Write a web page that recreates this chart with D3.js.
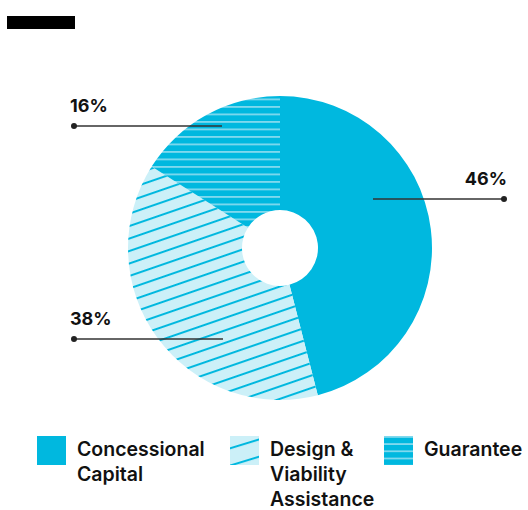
<!DOCTYPE html>
<html>
<head>
<meta charset="utf-8">
<script src="https://cdn.jsdelivr.net/npm/d3@7"></script>
<style>
  html, body { margin: 0; padding: 0; background: #fff; }
  svg { display: block; }
  text { font-family: Inter, "Noto Sans", sans-serif; fill: #111; }
</style>
</head>
<body>
<svg id="chart" width="528" height="510"></svg>
<script>
// Funding mix by instrument (percent of total)
const categories = ["Concessional Capital", "Design & Viability Assistance", "Guarantee"];
const shares = [46, 38, 16];
const valueLabels = ["46%", "38%", "16%"];
const legendLines = [["Concessional", "Capital"], ["Design &", "Viability", "Assistance"], ["Guarantee"]];

const BLUE = "#00b8df";
const LIGHT = "#ccf0f8";
const STRIPE = "#80d9ee";

const svg = d3.select("#chart");
const defs = svg.append("defs");

// diagonal hatch: blue lines on a pale fill
function diagonal(id, gap, angle) {
  const p = defs.append("pattern")
    .attr("id", id).attr("patternUnits", "userSpaceOnUse")
    .attr("width", 40).attr("height", gap)
    .attr("patternTransform", `rotate(${angle})`);
  p.append("rect").attr("width", 40).attr("height", gap).attr("fill", LIGHT);
  p.append("rect").attr("y", 0).attr("width", 40).attr("height", 2).attr("fill", BLUE);
}
// horizontal stripes: pale lines on solid blue
function horizontal(id, gap, offset) {
  const p = defs.append("pattern")
    .attr("id", id).attr("patternUnits", "userSpaceOnUse")
    .attr("width", 20).attr("height", gap)
    .attr("y", offset);
  p.append("rect").attr("width", 20).attr("height", gap).attr("fill", BLUE);
  p.append("rect").attr("y", 0).attr("width", 20).attr("height", 1.8).attr("fill", STRIPE);
}

// donut geometry
const cx = 280, cy = 248, rOuter = 152, rInner = 38;

// slice patterns live in the donut group's (centred) coordinates
diagonal("hatchDesign", 11.8, -19);
horizontal("stripeGuarantee", 7.5, 98.5 - cy);
// legend patterns live in page coordinates
diagonal("hatchDesignKey", 16.5, -17);
horizontal("stripeGuaranteeKey", 7.2, 436);

const fills = [BLUE, "url(#hatchDesign)", "url(#stripeGuarantee)"];
const keyFills = [BLUE, "url(#hatchDesignKey)", "url(#stripeGuaranteeKey)"];

// header bar
svg.append("rect").attr("x", 7).attr("y", 16).attr("width", 68).attr("height", 13).attr("fill", "#000");

const pie = d3.pie().sort(null).value(d => d)(shares);
const arc = d3.arc().innerRadius(rInner).outerRadius(rOuter);

svg.append("g").attr("transform", `translate(${cx},${cy})`)
  .selectAll("path.slice")
  .data(pie)
  .join("path")
  .attr("class", "slice")
  .attr("d", arc)
  .attr("fill", (d, i) => fills[i]);

// leader lines with value labels
const leaders = [
  { i: 0, x1: 373, x2: 504, y: 199, tx: 507, ty: 185, anchor: "end" },
  { i: 1, x1: 223, x2: 74, y: 339, tx: 70, ty: 325, anchor: "start" },
  { i: 2, x1: 222, x2: 74, y: 126, tx: 70, ty: 112, anchor: "start" }
];
const lg = svg.append("g");
leaders.forEach(l => {
  lg.append("line").attr("x1", l.x1).attr("x2", l.x2).attr("y1", l.y).attr("y2", l.y)
    .attr("stroke", "#333").attr("stroke-width", 1.3);
  lg.append("circle").attr("cx", l.x2).attr("cy", l.y).attr("r", 3).attr("fill", "#222");
  lg.append("text").attr("x", l.tx).attr("y", l.ty).attr("text-anchor", l.anchor)
    .attr("font-size", 18).attr("font-weight", 700).text(valueLabels[l.i]);
});

// legend
const keyX = [37, 230, 384];
const legend = svg.append("g");
categories.forEach((c, i) => {
  legend.append("rect").attr("x", keyX[i]).attr("y", 436).attr("width", 29).attr("height", 29)
    .attr("fill", keyFills[i]);
  const t = legend.append("text").attr("x", keyX[i] + 40).attr("y", 456)
    .attr("font-size", 19.5).attr("font-weight", 600);
  legendLines[i].forEach((line, j) => {
    t.append("tspan").attr("x", keyX[i] + 40).attr("dy", j === 0 ? 0 : 25).text(line);
  });
});
</script>
</body>
</html>
